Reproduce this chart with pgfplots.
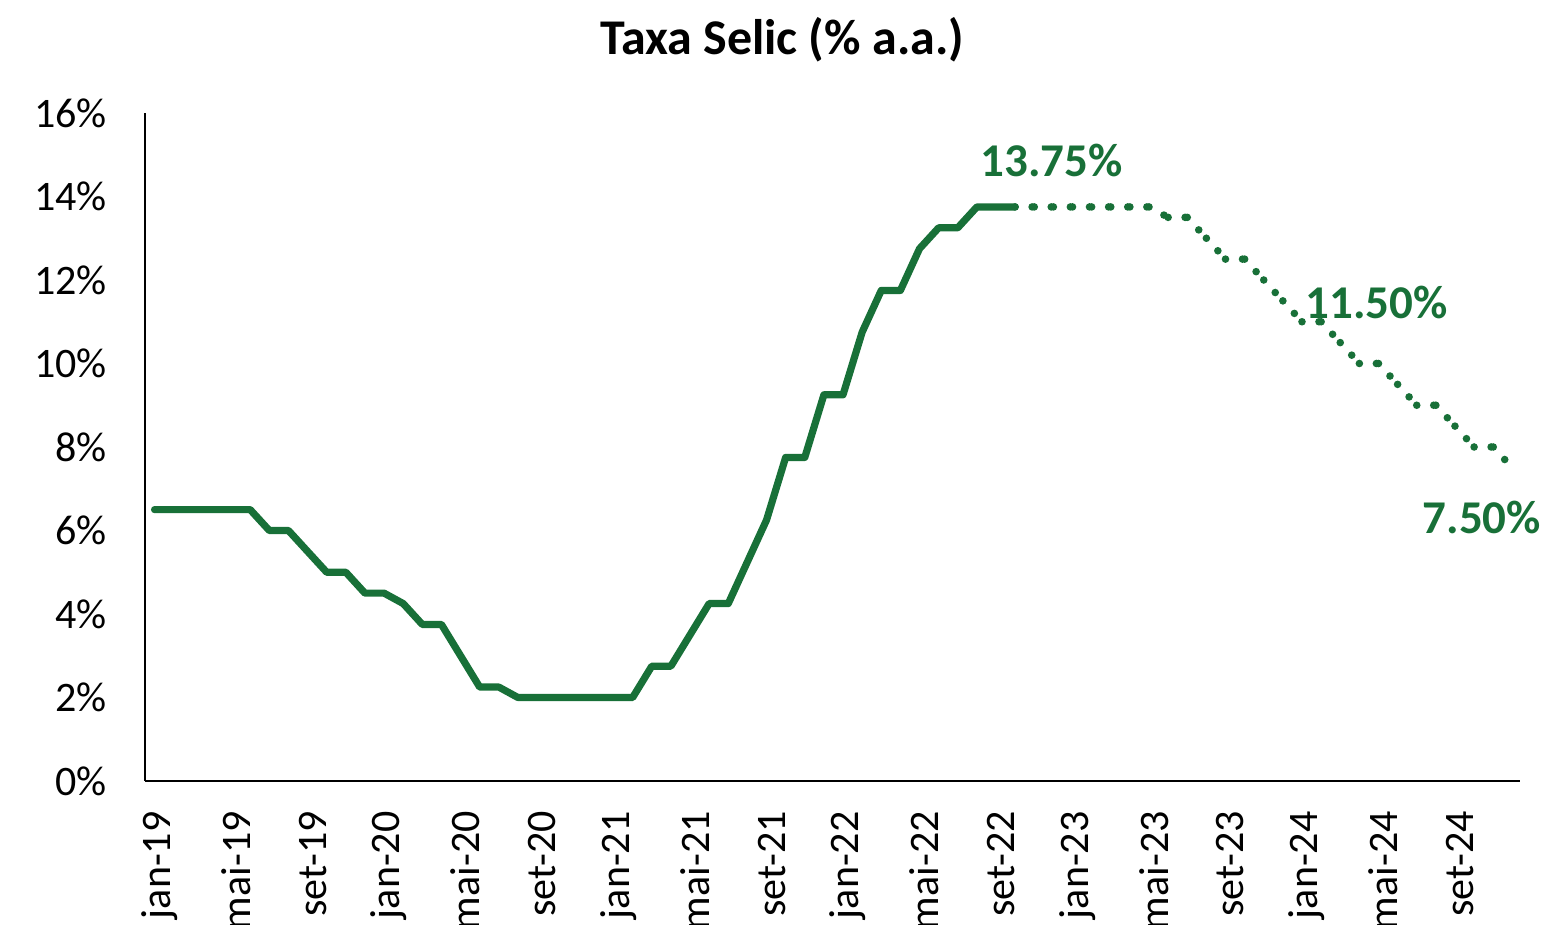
\documentclass[border=0pt]{standalone}
\usepackage{fontspec}
\setmainfont{Carlito}
\usepackage{pgfplots}
\usepackage{pgfplotstable}
\pgfplotsset{compat=1.18}
\definecolor{selic}{RGB}{24,112,56}

\pgfplotstableread{
x y
0 6.5
1 6.5
2 6.5
3 6.5
4 6.5
5 6.5
6 6.0
7 6.0
8 5.5
9 5.0
10 5.0
11 4.5
12 4.5
13 4.25
14 3.75
15 3.75
16 3.0
17 2.25
18 2.25
19 2.0
20 2.0
21 2.0
22 2.0
23 2.0
24 2.0
25 2.0
26 2.75
27 2.75
28 3.5
29 4.25
30 4.25
31 5.25
32 6.25
33 7.75
34 7.75
35 9.25
36 9.25
37 10.75
38 11.75
39 11.75
40 12.75
41 13.25
42 13.25
43 13.75
44 13.75
45 13.75
}\realdata

% projection, one piece per month so that the dot pattern restarts at every point
\pgfplotstableread{
x y
45 13.75
46 13.75
nan nan
46 13.75
47 13.75
nan nan
47 13.75
48 13.75
nan nan
48 13.75
49 13.75
nan nan
49 13.75
50 13.75
nan nan
50 13.75
51 13.75
nan nan
51 13.75
52 13.75
nan nan
52 13.75
53 13.5
nan nan
53 13.5
54 13.5
nan nan
54 13.5
55 13.0
nan nan
55 13.0
56 12.5
nan nan
56 12.5
57 12.5
nan nan
57 12.5
58 12.0
nan nan
58 12.0
59 11.5
nan nan
59 11.5
60 11.0
nan nan
60 11.0
61 11.0
nan nan
61 11.0
62 10.5
nan nan
62 10.5
63 10.0
nan nan
63 10.0
64 10.0
nan nan
64 10.0
65 9.5
nan nan
65 9.5
66 9.0
nan nan
66 9.0
67 9.0
nan nan
67 9.0
68 8.5
nan nan
68 8.5
69 8.0
nan nan
69 8.0
70 8.0
nan nan
70 8.0
71 7.5
}\projdata

\begin{document}
\begin{tikzpicture}[x=1pt,y=1pt]
\begin{axis}[
  at={(72.5pt,72pt)}, anchor=south west,
  scale only axis, width=687.5pt, height=334pt,
  xmin=-0.5, xmax=71.4, ymin=0, ymax=16,
  axis x line*=bottom, axis y line*=left,
  axis line style={black, line width=1pt, -},
  xtick={0,4,...,68},
  xticklabels={jan-19,mai-19,set-19,jan-20,mai-20,set-20,jan-21,mai-21,set-21,jan-22,mai-22,set-22,jan-23,mai-23,set-23,jan-24,mai-24,set-24},
  ytick={0,2,...,16},
  yticklabel={\pgfmathprintnumber{\tick}\%},
  /pgf/number format/assume math mode=true,
  major tick length=0pt,
  tick label style={font=\fontsize{21}{21}\selectfont},
  xticklabel style={xshift=2.5pt, rotate=90, anchor=east, inner sep=0pt},
  yticklabel style={anchor=east, inner sep=0pt},
  xticklabel shift=15pt,
  yticklabel shift=19pt,
  unbounded coords=jump,
  clip=false,
]
\addplot[selic, line width=3.6pt, line join=round, line cap=round] table[x=x,y=y]{\realdata};
\addplot[selic, line width=3.8pt, line cap=round, dash pattern=on 0pt off 8.5pt] table[x=x,y=y]{\projdata};
\node[font=\bfseries\fontsize{23.5}{23.5}\selectfont, text=selic, inner sep=0pt] at (axis cs:46.9,14.87) {13.75\%};
\node[font=\bfseries\fontsize{23.5}{23.5}\selectfont, text=selic, inner sep=0pt] at (axis cs:63.9,11.47) {11.50\%};
\node[font=\bfseries\fontsize{23.5}{23.5}\selectfont, text=selic, inner sep=0pt] at (axis cs:69.4,6.32) {7.50\%};
\end{axis}
\node[font=\bfseries\fontsize{25}{25}\selectfont, inner sep=0pt] at (391,442.5) {Taxa Selic (\% a.a.)};
\pgfresetboundingbox
\useasboundingbox (0,0) rectangle (772,462.5);
\end{tikzpicture}
\end{document}
